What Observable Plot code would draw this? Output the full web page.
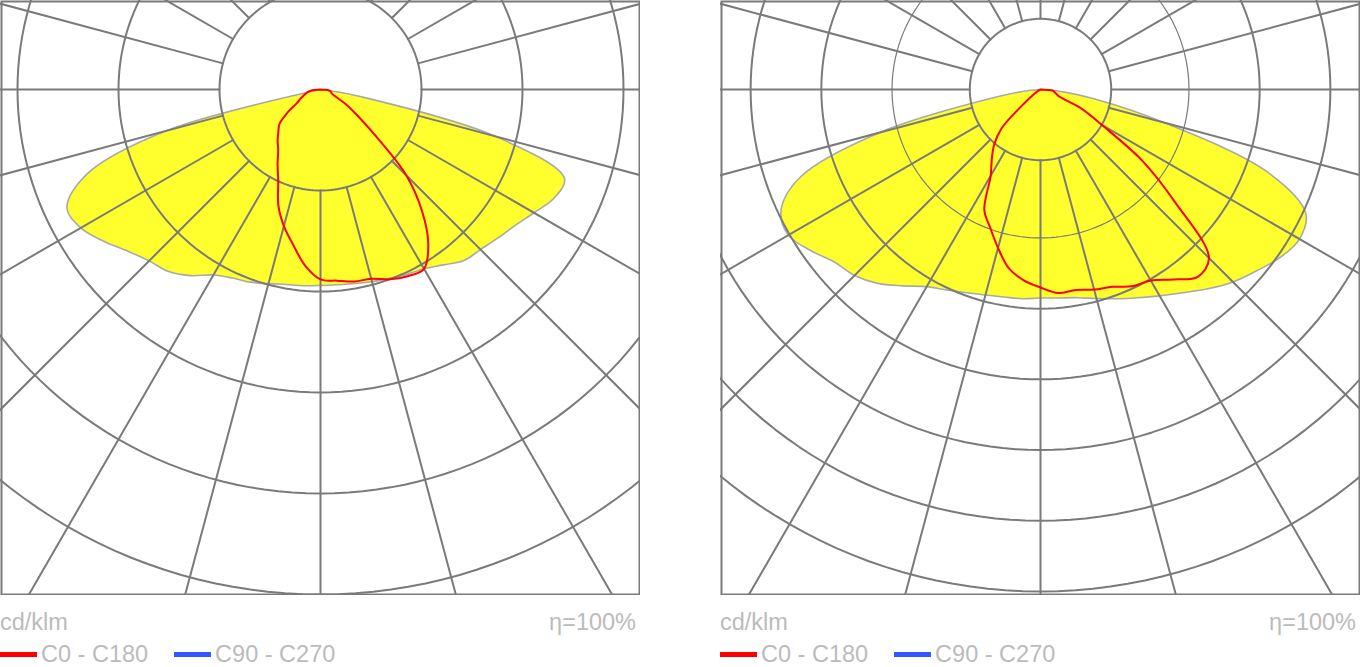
<!DOCTYPE html>
<html><head><meta charset="utf-8">
<script src="https://cdn.jsdelivr.net/npm/d3@7"></script>
<script src="https://cdn.jsdelivr.net/npm/@observablehq/plot@0.6"></script>
<style>
body{margin:0;background:#fff;font-family:"Liberation Sans",Arial,sans-serif;}
#wrap{display:flex;gap:80px;}
.panel{width:640px;}
.panel svg{display:block;}
.foot{position:relative;height:72px;color:#bbb;font-size:23.5px;}
.unit{position:absolute;left:0;top:14px;}
.eta{position:absolute;right:4px;top:14px;}
.leg{position:absolute;left:0;top:46px;display:flex;align-items:center;white-space:nowrap;}
.sw{display:inline-block;width:37px;height:5px;margin-right:4px;}
.gap{display:inline-block;width:26px;}
</style></head><body>
<div id="wrap"></div>
<script>
// gamma angles (deg from nadir, negative = left half)
const angles = [-90,-85,-80,-75,-70,-65,-60,-55,-50,-45,-40,-35,-30,-25,-20,-15,-10,-5,0,5,10,15,20,25,30,35,40,45,50,55,60,65,70,75,80,85,90];
// left diagram, cd/klm
const leftC90 = [0,0,0,158,247,277,274,262,249,240,235,225,212,206,203,199,196,195,194,194,195,197,199,202,205,212,221,224,229,235,244,255,257,179,40,5,0];
const leftC0  = [0,8,12,15,18,22,27,40,53,59,66,73,85,99,122,140,156,175,188,190,193,194,200,204,205,186,156,120,71,44,29,16,12,11,10,8,0];
// right diagram, cd/klm
const rightC90 = [0,17,68,236,361,405,412,397,380,372,358,339,322,313,306,301,298,297,295,296,299,306,315,325,337,351,368,385,399,414,423,414,342,181,78,25,0];
const rightC0  = [0,0,0,0,0,1,4,11,28,78,102,120,141,188,208,232,257,271,280,289,288,293,297,307,312,328,346,337,249,176,100,64,27,23,20,17,0];
// grid
const leftRings  = [100,200,300,400,500,600];
const rightRings = [100,210,310,410,510,610,710];
const spokeAngles = [0,15,30,45,60,75,90,105,120,135,150,165,180,195,210,225,240,255,270,285,300,315,330,345];
const unitText = "cd/klm";
const etaText = "η=100%";
const seriesNames = ["C0 - C180","C90 - C270"];

const GRID = "#7a7a7a";
const rad = a => a * Math.PI / 180;
const X = d => d.v * Math.sin(rad(d.a));
const Y = d => d.v * Math.cos(rad(d.a));

function diagram(rings, c0, c90, k, thinRing) {
  const W = 640, H = 595, cx = 320, cy = 89;
  const pts = vals => angles.map((a, i) => ({a, v: vals[i]}));
  const circ = [];
  for (let a = 0; a <= 360; a += 2) circ.push(a);
  const ringPts = rs => rs.flatMap(r => circ.map(a => ({ring: r, a, v: r})));
  const thick = rings.filter(r => r !== thinRing);
  const thin = rings.filter(r => r === thinRing);
  const inner = rings[0];
  const spokes = spokeAngles.flatMap(a => [{s: a, a, v: inner}, {s: a, a, v: 3000}]);
  return Plot.plot({
    width: W, height: H, margin: 0,
    x: {domain: [-cx / k, (W - cx) / k], range: [0, W], axis: null},
    y: {domain: [-cy / k, (H - cy) / k], range: [0, H], axis: null},
    marks: [
      Plot.line(pts(c90), {x: X, y: Y, curve: "catmull-rom", fill: "#ffff2e", stroke: "#a9a9a9", strokeWidth: 1.6, clip: true}),
      Plot.line(ringPts(thick), {x: X, y: Y, z: "ring", stroke: GRID, strokeWidth: 2, clip: true}),
      Plot.line(ringPts(thin), {x: X, y: Y, z: "ring", stroke: GRID, strokeWidth: 1.2, clip: true}),
      Plot.line(spokes, {x: X, y: Y, z: "s", stroke: GRID, strokeWidth: 2, clip: true}),
      Plot.line(pts(c0), {x: X, y: Y, curve: "catmull-rom", stroke: "#ff0000", strokeWidth: 2, clip: true}),
      Plot.frame({stroke: GRID, strokeWidth: 2, inset: 1})
    ]
  });
}

function footer() {
  const f = document.createElement("div");
  f.className = "foot";
  f.innerHTML = `<span class="unit">${unitText}</span><span class="eta">${etaText}</span>
  <div class="leg"><span class="sw" style="background:#ff0000"></span><span>${seriesNames[0]}</span><span class="gap"></span><span class="sw" style="background:#3158ff"></span><span>${seriesNames[1]}</span></div>`;
  return f;
}

const wrap = document.getElementById("wrap");
[[leftRings, leftC0, leftC90, 1.01, null], [rightRings, rightC0, rightC90, 0.707, 210]].forEach(([r, a, b, k, t]) => {
  const p = document.createElement("div");
  p.className = "panel";
  p.appendChild(diagram(r, a, b, k, t));
  p.appendChild(footer());
  wrap.appendChild(p);
});
</script>
</body></html>
